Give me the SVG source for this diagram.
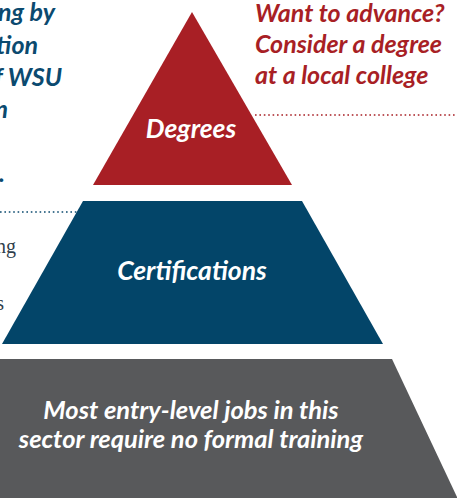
<svg xmlns="http://www.w3.org/2000/svg" width="457" height="498" viewBox="0 0 457 498">
<style>
.lbl{font-family:Lato,"Open Sans","Liberation Sans",sans-serif;font-style:italic;font-weight:bold;fill:#ffffff;text-anchor:middle}
.note{font-family:Lato,"Open Sans","Liberation Sans",sans-serif;font-style:italic;font-weight:bold;font-size:25px}
.side{font-family:"Liberation Serif","DejaVu Serif",serif;font-size:20px;fill:#2f3e4c;text-anchor:end}
.dot{fill:none;stroke-width:1.6;stroke-dasharray:1.6 2.8}
</style>
<rect width="457" height="498" fill="#ffffff"/>
<g id="connectors">
<line class="dot" x1="255" y1="115" x2="457" y2="115" stroke="#a81f25"/>
<line class="dot" x1="0" y1="212" x2="78" y2="212" stroke="#0b4a6f"/>
</g>
<g id="degrees">
<polygon points="192,12 292,185 93,185" fill="#a81f25"/>
<text class="lbl" x="191" y="138" font-size="26.5">Degrees</text>
</g>
<g id="certifications">
<polygon points="83,201 302,201 383,344 2,344" fill="#034569"/>
<text class="lbl" x="192" y="280" font-size="26.5" font-weight="600">Certifications</text>
</g>
<g id="entry-level">
<polygon points="0,359 392,359 457,497 457,498 0,498" fill="#58595b"/>
<text class="lbl" x="191" y="419" font-size="25.5" font-weight="600">Most entry-level jobs in this</text>
<text class="lbl" x="191" y="448" font-size="25.5" font-weight="600">sector require no formal training</text>
</g>
<g id="advance-note" class="note" fill="#a81f25">
<text x="255" y="22">Want to advance?</text>
<text x="255" y="53">Consider a degree</text>
<text x="255" y="84">at a local college</text>
</g>
<g id="left-note" class="note" fill="#0b4a6f" text-anchor="end">
<text x="55" y="21">ng by</text>
<text x="38" y="54">tion</text>
<text x="62" y="86">f WSU</text>
<text x="8" y="118">n</text>
<text x="5" y="182">.</text>
</g>
<g id="left-side-text">
<text class="side" x="16" y="253">ng</text>
<text class="side" x="4" y="310">s</text>
</g>
</svg>
